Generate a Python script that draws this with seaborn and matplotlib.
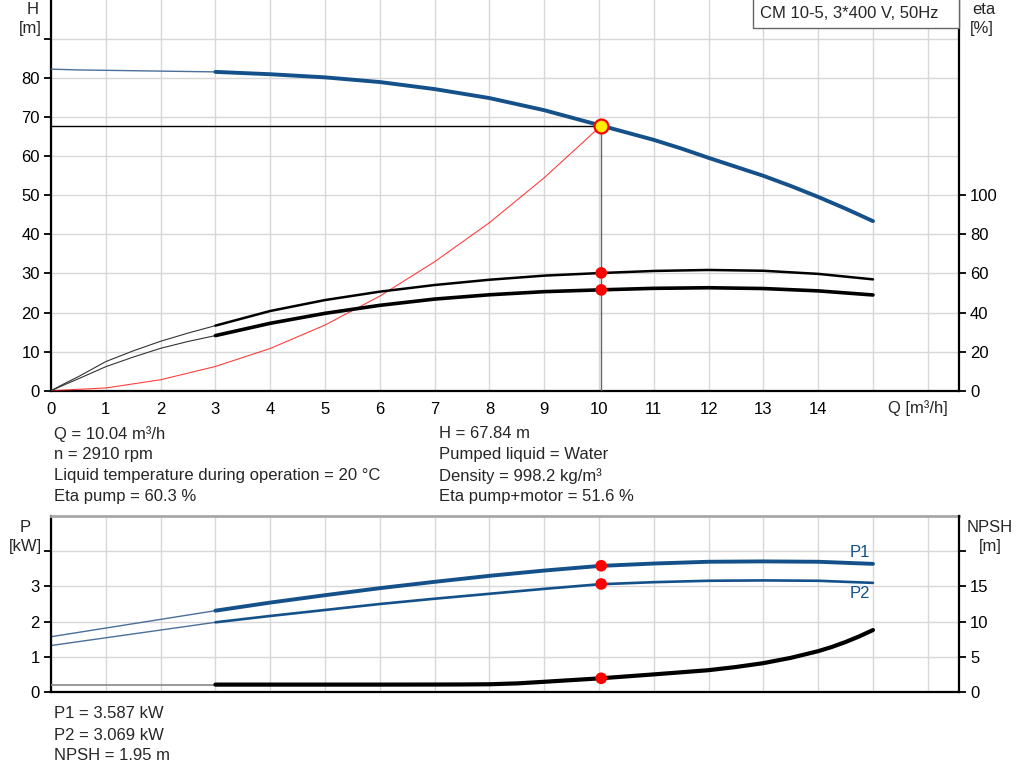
import matplotlib
matplotlib.use("Agg")
import matplotlib.pyplot as plt
from matplotlib.patches import Rectangle
import seaborn as sns

sns.set_style("white")
plt.rcParams['font.family'] = ['Liberation Sans', 'DejaVu Sans']

# ---------------- data ----------------
q_thin = [0, 0.5, 1, 2, 3]
h_thin = [82.3, 82.1, 82.0, 81.8, 81.6]
q_main = [3, 4, 5, 6, 7, 8, 9, 10, 10.5, 11, 11.5, 12, 12.5, 13, 13.5, 14, 14.5, 15]
h_main = [81.6, 81.0, 80.2, 79.0, 77.2, 74.9, 71.8, 68.0, 66.1, 64.2, 62.0,
          59.6, 57.3, 55.0, 52.4, 49.6, 46.6, 43.4]

q_eta_thin = [0, 0.25, 0.5, 1, 1.5, 2, 2.5, 3]
eta_pump_thin = [0, 3.7, 7.2, 14.9, 20.4, 25.3, 29.5, 33.3]
eta_tot_thin = [0, 3.1, 6.1, 12.3, 17.2, 21.7, 25.2, 28.2]
q_eta = [3, 4, 5, 6, 7, 8, 9, 10, 11, 12, 13, 14, 15]
eta_pump = [33.3, 40.8, 46.4, 50.7, 54.1, 56.8, 58.9, 60.2, 61.3, 61.8, 61.4, 59.8, 57.0]
eta_tot = [28.2, 34.5, 39.6, 43.7, 46.9, 49.1, 50.7, 51.6, 52.4, 52.7, 52.3, 51.1, 49.0]

q_sys = [0, 1, 2, 3, 4, 5, 6, 7, 8, 9, 10.04]
h_sys = [0, 0.7, 2.8, 6.2, 10.8, 16.8, 24.2, 33.0, 43.0, 54.5, 67.84]

q_p_thin = [0, 3]
p1_thin = [1.57, 2.31]
p2_thin = [1.32, 1.98]
q_p = [3, 4, 5, 6, 7, 8, 9, 10, 11, 12, 13, 14, 15]
p1 = [2.31, 2.54, 2.75, 2.95, 3.13, 3.30, 3.45, 3.58, 3.65, 3.70, 3.71, 3.70, 3.64]
p2 = [1.98, 2.16, 2.33, 2.50, 2.65, 2.79, 2.93, 3.06, 3.12, 3.16, 3.17, 3.16, 3.10]

q_npsh_thin = [0, 3]
npsh_thin = [1.05, 1.05]
q_npsh = [3, 4, 5, 6, 7, 7.5, 8, 8.5, 9, 10, 11, 12, 12.5, 13, 13.5, 14, 14.25, 14.5, 14.75, 15]
npsh = [1.05, 1.05, 1.05, 1.05, 1.06, 1.07, 1.10, 1.22, 1.45, 1.93, 2.50, 3.10,
        3.55, 4.10, 4.85, 5.80, 6.40, 7.10, 7.90, 8.80]

q_op = 10.04
h_op = 67.84
eta_pump_op = 60.3
eta_tot_op = 51.6
p1_op = 3.587
p2_op = 3.069
npsh_op = 1.95

x_ticks = list(range(0, 17))
x_labels = [str(i) if i <= 14 else "" for i in x_ticks]
h_ticks = list(range(0, 100, 10))
h_labels = [str(t) if t <= 80 else "" for t in h_ticks]
eta_ticks = list(range(0, 120, 20))
p_ticks = [0, 1, 2, 3, 4]
p_labels = ["0", "1", "2", "3", ""]
npsh_ticks = [0, 5, 10, 15, 20]
npsh_labels = ["0", "5", "10", "15", ""]

info_left = ["Q = 10.04 m³/h", "n = 2910 rpm",
             "Liquid temperature during operation = 20 °C", "Eta pump = 60.3 %"]
info_right = ["H = 67.84 m", "Pumped liquid = Water",
              "Density = 998.2 kg/m³", "Eta pump+motor = 51.6 %"]
info_bottom = ["P1 = 3.587 kW", "P2 = 3.069 kW", "NPSH = 1.95 m"]
title_text = "CM 10-5, 3*400 V, 50Hz"

# ---------------- styling ----------------
BLUE = "#14508a"
BLUE_THIN = "#4a6f99"
GRID = "#d8d8d8"
FS = 12
W, H = 1024, 781

def fx(px):
    return px / W

def fy(py):
    return 1 - py / H

fig = plt.figure(figsize=(10.24, 7.81), dpi=100)
fig.patch.set_facecolor("white")

ax = fig.add_axes([fx(51), fy(390.7), fx(959) - fx(51), fy(0) - fy(390.7)])
ax2 = ax.twinx()
bx = fig.add_axes([fx(51), fy(692), fx(959) - fx(51), fy(516) - fy(692)])
bx2 = bx.twinx()

XMAX = 16.57

def style_axes(a, a2):
    a.set_xlim(0, XMAX)
    a.set_xticks(x_ticks)
    a.grid(True, color=GRID, lw=1.0)
    a.set_axisbelow(True)
    for s in ["left", "bottom"]:
        a.spines[s].set_color("black")
        a.spines[s].set_linewidth(1.6)
    a2.spines["right"].set_color("black")
    a2.spines["right"].set_linewidth(1.6)
    for sp in ["left", "bottom", "top"]:
        a2.spines[sp].set_visible(False)
    a.spines["right"].set_visible(False)
    a.tick_params(axis="both", direction="out", length=5, width=1.3,
                  color="black", labelsize=FS, labelcolor="black", pad=3)
    a2.tick_params(axis="y", direction="out", length=5, width=1.3,
                   color="black", labelsize=FS, labelcolor="black", pad=3)
    a.set_xlabel("")
    a.set_ylabel("")
    a2.set_ylabel("")

# ---------------- top panel ----------------
style_axes(ax, ax2)
ax.set_ylim(0, 100)
ax.set_yticks(h_ticks)
ax.set_yticklabels(h_labels)
ax.set_xticklabels(x_labels)
ax.spines["top"].set_visible(False)
ax2.set_ylim(0, 200)
ax2.set_yticks(eta_ticks)
ax2.set_yticklabels([str(t) for t in eta_ticks])

# operating point lines
ax.plot([0, q_op], [h_op, h_op], color="black", lw=1.0, zorder=3)
ax.plot([q_op, q_op], [0, h_op], color="#666666", lw=1.0, zorder=3)

# system curve
sns.lineplot(x=q_sys, y=h_sys, ax=ax, color="red", lw=0.8, alpha=0.75,
             estimator=None, zorder=4)
# H curve
sns.lineplot(x=q_thin, y=h_thin, ax=ax, color=BLUE_THIN, lw=1.0,
             estimator=None, zorder=5)
sns.lineplot(x=q_main, y=h_main, ax=ax, color=BLUE, lw=2.8,
             estimator=None, zorder=5)
ax.plot([q_op], [h_op], marker="o", ms=10, mfc="#ffee00", mec="red",
        mew=1.6, ls="none", zorder=8)
ax.set_xlabel("")
ax.set_ylabel("")

# efficiency curves
sns.lineplot(x=q_eta_thin, y=eta_pump_thin, ax=ax2, color="#333333", lw=0.8,
             estimator=None)
sns.lineplot(x=q_eta_thin, y=eta_tot_thin, ax=ax2, color="#333333", lw=0.8,
             estimator=None)
sns.lineplot(x=q_eta, y=eta_pump, ax=ax2, color="black", lw=1.8,
             estimator=None)
sns.lineplot(x=q_eta, y=eta_tot, ax=ax2, color="black", lw=2.6,
             estimator=None)
sns.scatterplot(x=[q_op, q_op], y=[eta_pump_op, eta_tot_op], ax=ax2,
                color="red", s=70, edgecolor="none", zorder=8)
ax2.set_ylabel("")

# ---------------- bottom panel ----------------
style_axes(bx, bx2)
bx.set_ylim(0, 5)
bx.set_yticks(p_ticks)
bx.set_yticklabels(p_labels)
bx.set_xticklabels([])
bx.tick_params(axis="x", length=0)
bx.spines["top"].set_color("#a8a8a8")
bx.spines["top"].set_linewidth(2.0)
bx2.set_ylim(0, 25)
bx2.set_yticks(npsh_ticks)
bx2.set_yticklabels(npsh_labels)

sns.lineplot(x=q_p_thin, y=p1_thin, ax=bx, color=BLUE_THIN, lw=1.0, estimator=None)
sns.lineplot(x=q_p_thin, y=p2_thin, ax=bx, color=BLUE_THIN, lw=1.0, estimator=None)
sns.lineplot(x=q_p, y=p1, ax=bx, color=BLUE, lw=2.8, estimator=None)
sns.lineplot(x=q_p, y=p2, ax=bx, color=BLUE, lw=1.9, estimator=None)
sns.scatterplot(x=[q_op, q_op], y=[p1_op, p2_op], ax=bx, color="red", s=70,
                edgecolor="none", zorder=8)

sns.lineplot(x=q_npsh_thin, y=npsh_thin, ax=bx2, color="#888888", lw=1.2, estimator=None)
sns.lineplot(x=q_npsh, y=npsh, ax=bx2, color="black", lw=3.0, estimator=None)
sns.scatterplot(x=[q_op], y=[npsh_op], ax=bx2, color="red", s=70,
                edgecolor="none", zorder=8)
bx.set_xlabel("")
bx.set_ylabel("")
bx2.set_ylabel("")

bx.text(q_p[-1] - 0.05, p1[-1] + 0.12, "P1", color=BLUE, fontsize=FS,
        ha="right", va="bottom")
bx.text(q_p[-1] - 0.05, p2[-1] - 0.1, "P2", color=BLUE, fontsize=FS,
        ha="right", va="top")

# ---------------- texts ----------------
fig.text(fx(33), fy(9), "H", fontsize=FS, ha="center", va="center")
fig.text(fx(30), fy(29), "[m]", fontsize=FS, ha="center", va="center")
fig.text(fx(984), fy(9), "eta", fontsize=FS, ha="center", va="center")
fig.text(fx(982), fy(29), "[%]", fontsize=FS, ha="center", va="center")
fig.text(fx(25), fy(527), "P", fontsize=FS, ha="center", va="center")
fig.text(fx(25), fy(547), "[kW]", fontsize=FS, ha="center", va="center")
fig.text(fx(990), fy(527), "NPSH", fontsize=FS, ha="center", va="center")
fig.text(fx(990), fy(547), "[m]", fontsize=FS, ha="center", va="center")
fig.text(fx(918), fy(408), "Q [m³/h]", fontsize=FS, ha="center", va="center")

fig.patches.append(Rectangle((fx(753), fy(28)), fx(959) - fx(753), fy(-2) - fy(28),
                             transform=fig.transFigure, fc="white", ec="#666666",
                             lw=1.0, zorder=10))
fig.text(fx(760), fy(14), title_text, fontsize=FS, ha="left", va="center", zorder=11)

for i, t in enumerate(info_left):
    fig.text(fx(54), fy(434 + 21 * i), t, fontsize=FS, ha="left", va="center")
for i, t in enumerate(info_right):
    fig.text(fx(439), fy(434 + 21 * i), t, fontsize=FS, ha="left", va="center")
for i, t in enumerate(info_bottom):
    fig.text(fx(54), fy(714 + 21 * i), t, fontsize=FS, ha="left", va="center")

fig.savefig("out.png", dpi=100, facecolor="white")
